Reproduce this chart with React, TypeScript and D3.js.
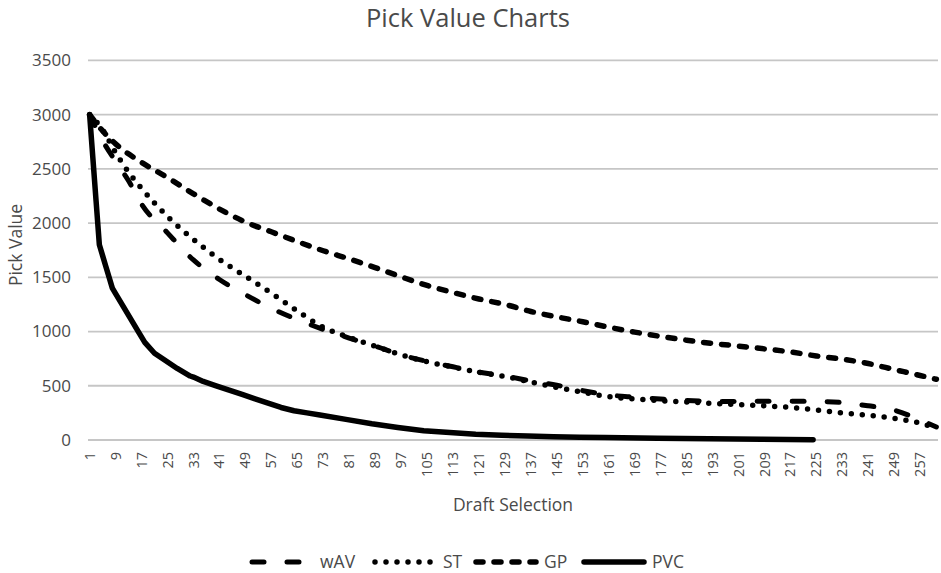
import React from "react";
import * as d3 from "d3";

const W = 941;
const H = 573;

const title = "Pick Value Charts";
const yTitle = "Pick Value";
const xTitle = "Draft Selection";

const yTicks = [0, 500, 1000, 1500, 2000, 2500, 3000, 3500];
const xTickLabels = [1, 9, 17, 25, 33, 41, 49, 57, 65, 73, 81, 89, 97, 105, 113, 121, 129, 137, 145, 153, 161, 169, 177, 185, 193, 201, 209, 217, 225, 233, 241, 249, 257];
const pickCount = 262;

// wAV (long dash)
const wavPicks = [1, 5, 9, 13, 17, 25, 33, 41, 49, 57, 65, 73, 81, 89, 97, 105, 113, 121, 129, 137, 145, 153, 161, 169, 177, 185, 193, 201, 209, 217, 225, 233, 241, 249, 257, 262];
const wavValues = [3000, 2760, 2570, 2390, 2175, 1910, 1660, 1480, 1340, 1215, 1110, 1020, 940, 865, 785, 725, 675, 625, 590, 545, 505, 455, 415, 395, 378, 365, 357, 355, 358, 357, 355, 345, 315, 275, 185, 120];

// ST (dotted)
const stPicks = [1, 5, 9, 13, 17, 21, 25, 33, 41, 49, 57, 65, 73, 81, 89, 97, 105, 113, 121, 129, 137, 145, 153, 161, 169, 177, 185, 193, 201, 209, 217, 225, 233, 241, 249, 257, 262];
const stValues = [3000, 2860, 2650, 2470, 2320, 2185, 2060, 1850, 1665, 1510, 1355, 1190, 1040, 945, 865, 785, 722, 672, 625, 585, 535, 485, 440, 400, 378, 362, 350, 338, 326, 315, 300, 277, 250, 228, 200, 155, 110];

// GP (medium dash)
const gpPicks = [1, 5, 9, 17, 25, 33, 41, 49, 57, 65, 73, 81, 89, 97, 105, 113, 121, 129, 137, 145, 153, 161, 169, 177, 185, 193, 201, 209, 217, 225, 233, 241, 249, 257, 262];
const gpValues = [3000, 2850, 2730, 2560, 2420, 2270, 2130, 2010, 1920, 1830, 1745, 1670, 1590, 1505, 1425, 1360, 1300, 1250, 1185, 1135, 1090, 1040, 995, 955, 920, 890, 866, 840, 812, 775, 745, 705, 650, 595, 560];

// PVC (solid)
const pvcPicks = [1, 2, 3, 4, 5, 6, 7, 8, 9, 12, 16, 18, 21, 24, 28, 32, 33, 36, 40, 44, 48, 52, 56, 60, 64, 68, 72, 80, 88, 96, 104, 112, 120, 128, 136, 144, 152, 160, 176, 192, 208, 224];
const pvcValues = [3000, 2600, 2200, 1800, 1700, 1600, 1500, 1400, 1350, 1200, 1000, 900, 800, 740, 660, 590, 580, 540, 500, 460, 420, 380, 340, 300, 270, 250, 230, 190, 150, 116, 86, 70, 54, 44, 36, 30, 25, 22, 16, 11, 7, 2];

const FONT = "'Open Sans', 'DejaVu Sans', sans-serif";
const TEXT = "#4a4a4a";

type Style = { dash: string | null; cap: "round" | "butt"; width: number; curve: any };

const series: { name: string; picks: number[]; values: number[]; style: Style }[] = [
  { name: "wAV", picks: wavPicks, values: wavValues, style: { dash: "12 23", cap: "round", width: 5, curve: d3.curveMonotoneX } },
  { name: "ST", picks: stPicks, values: stValues, style: { dash: "0 11", cap: "round", width: 5.5, curve: d3.curveMonotoneX } },
  { name: "GP", picks: gpPicks, values: gpValues, style: { dash: "7 11", cap: "round", width: 5.5, curve: d3.curveMonotoneX } },
  { name: "PVC", picks: pvcPicks, values: pvcValues, style: { dash: null, cap: "round", width: 5.5, curve: d3.curveLinear } },
];

const legendX = [252, 375, 476, 584];

export default function App() {
  const left = 88, right = 938, top = 60.4, bottom = 440;
  const x = d3.scaleLinear().domain([0.5, pickCount + 0.5]).range([left, right]);
  const y = d3.scaleLinear().domain([0, 3500]).range([bottom, top]);

  return (
    <svg width={W} height={H} viewBox={`0 0 ${W} ${H}`} style={{ display: "block", position: "absolute", left: 0, top: 0, background: "#fff" }}>
      <rect x={0} y={0} width={W} height={H} fill="#fff" />
      <text x={468} y={27} textAnchor="middle" fontFamily={FONT} fontSize={25.5} fill={TEXT}>{title}</text>

      {yTicks.map((t) => (
        <g key={t}>
          <line x1={left} x2={right} y1={y(t)} y2={y(t)} stroke="#c6c6c6" strokeWidth={1.8} />
          <text x={71} y={y(t)} dy="0.35em" textAnchor="end" fontFamily={FONT} fontSize={17} fill={TEXT}>{t}</text>
        </g>
      ))}

      {xTickLabels.map((p) => (
        <text key={p} transform={`translate(${x(p)},452) rotate(-90)`} dy="0.35em" textAnchor="end" fontFamily={FONT} fontSize={14.5} fill={TEXT}>{p}</text>
      ))}

      <text transform={`translate(16,245) rotate(-90)`} dy="0.35em" textAnchor="middle" fontFamily={FONT} fontSize={17.5} fill={TEXT}>{yTitle}</text>
      <text x={(left + right) / 2} y={511} textAnchor="middle" fontFamily={FONT} fontSize={17.5} fill={TEXT}>{xTitle}</text>

      {series.map((s) => {
        const line = d3.line<number>().x((_, i) => x(s.picks[i])).y((v) => y(v)).curve(s.style.curve);
        return (
          <path key={s.name} d={line(s.values) || ""} fill="none" stroke="#000" strokeWidth={s.style.width}
            strokeDasharray={s.style.dash || undefined} strokeLinecap={s.style.cap} strokeLinejoin="round" />
        );
      })}

      {series.map((s, i) => (
        <g key={s.name}>
          <line x1={legendX[i]} x2={legendX[i] + 60} y1={562} y2={562} stroke="#000" strokeWidth={s.style.width}
            strokeDasharray={s.style.dash || undefined} strokeLinecap={s.style.cap} />
          <text x={legendX[i] + 68} y={562} dy="0.35em" fontFamily={FONT} fontSize={17.5} fill={TEXT}>{s.name}</text>
        </g>
      ))}
    </svg>
  );
}
